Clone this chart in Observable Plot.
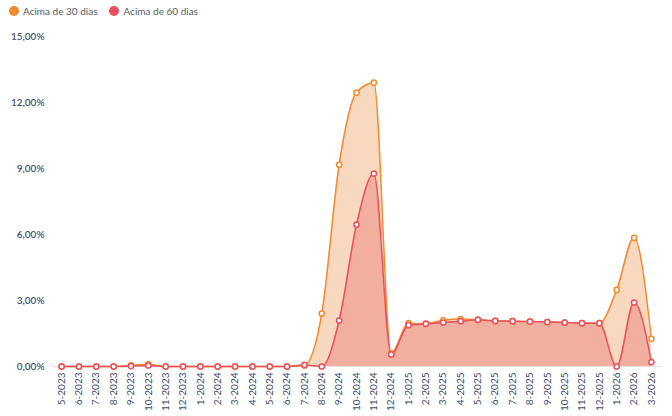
<!DOCTYPE html>
<html>
<head>
<meta charset="utf-8">
<script src="https://cdn.jsdelivr.net/npm/d3@7"></script>
<script src="https://cdn.jsdelivr.net/npm/@observablehq/plot@0.6"></script>
<style>
  body { margin: 0; background: #fff; font-family: Lato, "Open Sans", sans-serif; }
  #legend { height: 22px; display: flex; align-items: center; padding-left: 9px; font-size: 10px; color: #555a66; }
  .item { display: flex; align-items: center; margin-right: 12px; }
  .sw { width: 10px; height: 10px; border-radius: 50%; margin-right: 4px; }
</style>
</head>
<body>
<div id="legend"></div>
<div id="chart"></div>
<script>
const months = ["5-2023","6-2023","7-2023","8-2023","9-2023","10-2023","11-2023","12-2023",
  "1-2024","2-2024","3-2024","4-2024","5-2024","6-2024","7-2024","8-2024","9-2024","10-2024","11-2024","12-2024",
  "1-2025","2-2025","3-2025","4-2025","5-2025","6-2025","7-2025","8-2025","9-2025","10-2025","11-2025","12-2025",
  "1-2026","2-2026","3-2026"];
const acima30 = [0,0,0,0,0.05,0.1,0,0, 0,0,0,0,0,0,0.05,2.41,9.18,12.45,12.9,0.6, 1.97,1.95,2.1,2.16,2.13,2.07,2.06,2.04,2.02,2.0,1.97,1.97, 3.48,5.85,1.26];
const acima60 = [0,0,0,0,0.02,0.05,0,0, 0,0,0,0,0,0,0.07,0,2.09,6.45,8.77,0.55, 1.88,1.94,2.0,2.06,2.12,2.07,2.06,2.04,2.02,2.0,1.97,1.97, 0,2.91,0.2];
const seriesNames = ["Acima de 30 dias", "Acima de 60 dias"];
const lineColors = ["#f28a30", "#e8505b"];
const fillColors = ["#f9d8c0", "#f2ae9f"];
const yTicks = [0, 3, 6, 9, 12, 15];

const d30 = months.map((m, i) => ({m, v: acima30[i]}));
const d60 = months.map((m, i) => ({m, v: acima60[i]}));

const legend = document.getElementById("legend");
seriesNames.forEach((n, i) => {
  const it = document.createElement("div"); it.className = "item";
  const sw = document.createElement("div"); sw.className = "sw"; sw.style.background = lineColors[i];
  const t = document.createElement("span"); t.textContent = n;
  it.appendChild(sw); it.appendChild(t); legend.appendChild(it);
});

const fmt = d => d.toFixed(2).replace(".", ",") + "%";
const curve = "monotone-x";

const chart = Plot.plot({
  width: 672,
  height: 394,
  marginLeft: 50,
  marginRight: 10,
  marginTop: 14,
  marginBottom: 50,
  style: {fontFamily: "Lato, 'Open Sans', sans-serif"},
  x: {type: "point", domain: months, padding: 0.64, round: false, label: null, tickSize: 0, tickRotate: -90, tickPadding: 6},
  y: {domain: [0, 15], ticks: yTicks, tickFormat: fmt, label: null, tickSize: 0, tickPadding: 6},
  marks: [
    Plot.gridY(yTicks.filter(d => d > 0), {stroke: "#d8d8d8", strokeOpacity: 1, strokeDasharray: "5,4", x1: 53, x2: 662}),
    Plot.ruleY([0], {stroke: "#e4e4e4"}),
    Plot.areaY(d30, {x: "m", y: "v", curve, fill: fillColors[0]}),
    Plot.lineY(d30, {x: "m", y: "v", curve, stroke: lineColors[0], strokeWidth: 1.5}),
    Plot.areaY(d60, {x: "m", y: "v", curve, fill: fillColors[1]}),
    Plot.lineY(d60, {x: "m", y: "v", curve, stroke: lineColors[1], strokeWidth: 1.5}),
    Plot.dot(d30, {x: "m", y: "v", r: 2.6, fill: "white", stroke: lineColors[0], strokeWidth: 1.5}),
    Plot.dot(d60, {x: "m", y: "v", r: 2.6, fill: "white", stroke: lineColors[1], strokeWidth: 1.5})
  ]
});
const xl = chart.querySelector("[aria-label='x-axis tick label']");
if (xl) { xl.setAttribute("fill", "#3d4a6b"); xl.setAttribute("font-size", "10"); }
const yl = chart.querySelector("[aria-label='y-axis tick label']");
if (yl) { yl.setAttribute("fill", "#4a5272"); yl.setAttribute("font-size", "10"); yl.setAttribute("font-weight", "600"); }
document.getElementById("chart").appendChild(chart);
</script>
</body>
</html>
